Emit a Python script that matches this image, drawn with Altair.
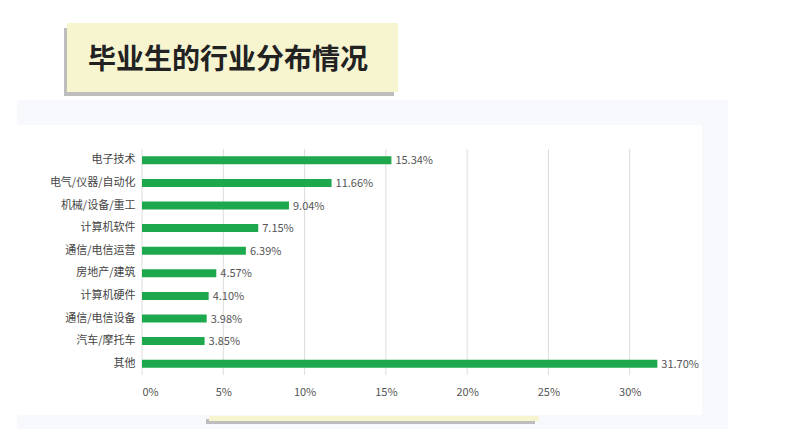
import altair as alt
import pandas as pd

FONT = "Noto Sans CJK SC"
GREEN = "#1ea84d"

TITLE = "毕业生的行业分布情况"
CATEGORIES = [
    "电子技术", "电气/仪器/自动化", "机械/设备/重工", "计算机软件", "通信/电信运营",
    "房地产/建筑", "计算机硬件", "通信/电信设备", "汽车/摩托车", "其他",
]
SHARES = [15.34, 11.66, 9.04, 7.15, 6.39, 4.57, 4.10, 3.98, 3.85, 31.70]
TICKS = [0, 5, 10, 15, 20, 25, 30]


def bars_layer(df: pd.DataFrame) -> alt.LayerChart:
    x = alt.X(
        "share:Q",
        scale=alt.Scale(domain=[0, 35], nice=False),
        axis=alt.Axis(
            values=TICKS, labelExpr="datum.value + '%'", title=None,
            domain=False, ticks=False, grid=False, zindex=1,
            labelColor="#555555", labelFontSize=11, labelPadding=11, labelFont=FONT,
        ),
    )
    y = alt.Y(
        "industry:N",
        sort=CATEGORIES,
        scale=alt.Scale(paddingInner=0, paddingOuter=0),
        axis=alt.Axis(
            title=None, domain=False, ticks=False, zindex=1, labelColor="#444444",
            labelFontSize=11, labelPadding=7, labelFont=FONT,
        ),
    )
    # gridlines as a rule layer so they sit above the backdrop but under the bars
    grid = (
        alt.Chart(pd.DataFrame({"share": TICKS}))
        .mark_rule(color="#dcdcdc", strokeWidth=1)
        .encode(x="share:Q")
    )
    bars = alt.Chart(df).mark_bar(size=8, color=GREEN).encode(x=x, y=y)
    labels = (
        alt.Chart(df)
        .transform_calculate(label="format(datum.share, '.2f') + '%'")
        .mark_text(align="left", baseline="middle", dx=4, dy=1, fontSize=11,
                   color="#555555", font=FONT)
        .encode(x="share:Q", y=alt.Y("industry:N", sort=CATEGORIES), text="label:N")
    )
    return grid + bars + labels


def box(x0, x1, y0, y1, color) -> alt.Chart:
    return (
        alt.Chart(alt.Data(values=[{}]))
        .mark_rect(color=color)
        .encode(x=alt.value(x0), x2=alt.value(x1), y=alt.value(y0), y2=alt.value(y1))
    )


def decorations() -> alt.LayerChart:
    backdrop = box(-125, 586, -49, 300, "#f7f9fc")
    panel = box(-125, 560, -24, 266, "#ffffff")
    title_shadow = box(-78, 252, -121, -53, "#bdbdbd")
    title_box = box(-75, 256, -126, -57, "#f7f4d0")
    title_text = (
        alt.Chart(alt.Data(values=[{"t": TITLE}]))
        .mark_text(align="left", baseline="middle", fontSize=28, fontWeight="bold",
                   color="#222222", font=FONT)
        .encode(x=alt.value(-54), y=alt.value(-88), text="t:N")
    )
    stripe_shadow = box(64, 393, 270, 275, "#bdbdbd")
    stripe = box(67, 397, 267, 272, "#f7f4d0")
    return backdrop + panel + title_shadow + title_box + title_text + stripe_shadow + stripe


df = pd.DataFrame({"industry": CATEGORIES, "share": SHARES})

chart = (
    alt.layer(decorations(), bars_layer(df))
    .properties(
        width=569, height=226,
        padding={"left": 134, "top": 141, "right": 79, "bottom": 54},
        autosize=alt.AutoSizeParams(type="none"),
        background="white",
    )
    .configure_view(stroke=None)
)

chart.save("out.html", embed_options={"renderer": "svg", "actions": False})
